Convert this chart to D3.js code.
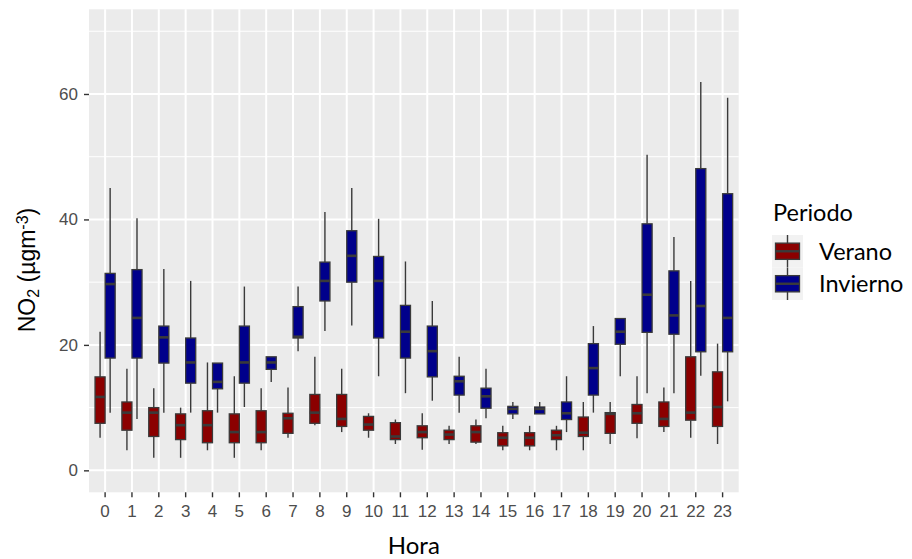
<!DOCTYPE html>
<html>
<head>
<meta charset="utf-8">
<script src="https://cdn.jsdelivr.net/npm/d3@7"></script>
<style>
  html, body { margin: 0; padding: 0; background: #ffffff; }
  svg { display: block; }
</style>
</head>
<body>
<svg id="chart" width="912" height="559"></svg>
<script>
// Hourly NO2 distributions by season: whisker low, Q1, median, Q3, whisker high
const hours = ["0","1","2","3","4","5","6","7","8","9","10","11","12","13","14","15","16","17","18","19","20","21","22","23"];
const periods = ["Verano", "Invierno"];
const periodColors = ["#8B0000", "#00008B"];

const veranoLow    = [5.2, 3.2, 2.0, 2.0, 3.2, 2.0, 3.2, 5.2, 7.2, 6.1, 5.2, 4.2, 3.3, 4.2, 4.2, 3.2, 3.2, 3.2, 3.2, 4.2, 5.1, 6.1, 5.2, 4.2];
const veranoQ1     = [7.5, 6.4, 5.4, 4.9, 4.4, 4.4, 4.4, 5.9, 7.5, 7.0, 6.4, 4.9, 5.2, 4.9, 4.5, 3.9, 3.9, 4.9, 5.4, 5.9, 7.5, 7.0, 8.0, 7.0];
const veranoMedian = [11.7, 9.2, 9.2, 7.2, 7.2, 6.1, 6.1, 8.3, 9.2, 8.2, 7.3, 5.4, 6.1, 5.7, 6.1, 5.2, 5.2, 5.6, 6.0, 9.0, 9.1, 8.2, 9.2, 10.1];
const veranoQ3     = [14.9, 10.9, 10.0, 9.0, 9.5, 9.0, 9.5, 9.1, 12.1, 12.1, 8.6, 7.6, 7.1, 6.4, 7.1, 6.0, 6.0, 6.4, 8.5, 9.2, 10.5, 10.9, 18.1, 15.7];
const veranoHigh   = [22.1, 16.2, 13.1, 10.0, 17.2, 15.0, 13.1, 13.2, 18.1, 16.2, 9.1, 8.1, 9.1, 7.1, 8.1, 7.1, 7.1, 7.1, 10.9, 10.9, 15.0, 13.2, 30.2, 20.2];

const inviernoLow    = [9.2, 8.2, 9.2, 9.2, 9.2, 10.1, 14.1, 19.0, 22.2, 23.1, 15.0, 12.3, 11.1, 9.2, 8.3, 8.2, 9.0, 6.1, 9.2, 15.0, 12.3, 12.3, 15.1, 11.0];
const inviernoQ1     = [17.9, 17.9, 17.1, 13.9, 13.0, 13.9, 16.1, 21.1, 27.0, 30.0, 21.1, 17.9, 14.9, 12.0, 9.9, 9.0, 9.0, 8.1, 12.0, 20.1, 22.0, 21.7, 18.9, 18.9];
const inviernoMedian = [29.7, 24.3, 21.2, 17.2, 14.1, 17.2, 17.2, 21.3, 30.2, 34.2, 30.2, 22.1, 19.0, 14.2, 11.8, 9.8, 9.8, 9.1, 16.3, 22.1, 28.0, 24.7, 26.2, 24.3];
const inviernoQ3     = [31.4, 32.0, 23.0, 21.1, 17.1, 23.0, 18.1, 26.1, 33.2, 38.2, 34.1, 26.3, 23.0, 15.0, 13.1, 10.2, 10.1, 10.9, 20.2, 24.2, 39.3, 31.8, 48.1, 44.1];
const inviernoHigh   = [45.0, 40.2, 32.1, 30.2, 17.1, 29.3, 18.1, 29.3, 41.2, 45.0, 40.1, 33.3, 27.0, 18.1, 16.2, 10.9, 10.9, 15.0, 23.0, 24.2, 50.3, 37.2, 61.9, 59.4];

const yMajorTicks = [0, 20, 40, 60];
const yMinorTicks = [10, 30, 50, 70];

const xTitle = "Hora";
const legendTitle = "Periodo";

// Assemble one record per box
const seriesStats = {
  Verano:   { low: veranoLow,   q1: veranoQ1,   med: veranoMedian,   q3: veranoQ3,   high: veranoHigh },
  Invierno: { low: inviernoLow, q1: inviernoQ1, med: inviernoMedian, q3: inviernoQ3, high: inviernoHigh }
};
const boxes = [];
hours.forEach((h, i) => {
  periods.forEach(p => {
    const s = seriesStats[p];
    boxes.push({ hour: h, period: p, low: s.low[i], q1: s.q1[i], med: s.med[i], q3: s.q3[i], high: s.high[i] });
  });
});

const svg = d3.select("#chart");
const panel = { left: 89, right: 738.7, top: 9.3, bottom: 492.3 };

const x = d3.scaleBand().domain(hours).range([panel.left, panel.right])
  .paddingInner(0).paddingOuter(0.1);
const step = x.step();
const dodge = d3.scaleBand().domain(periods).range([-0.375 * step, 0.375 * step]).padding(0);
const y = d3.scaleLinear().domain([-3.5, 73.5]).range([panel.bottom, panel.top]);
const color = d3.scaleOrdinal().domain(periods).range(periodColors);

const cx = h => x(h) + x.bandwidth() / 2;

// Panel background and grid
svg.append("rect")
  .attr("x", panel.left).attr("y", panel.top)
  .attr("width", panel.right - panel.left).attr("height", panel.bottom - panel.top)
  .attr("fill", "#EBEBEB");

const grid = svg.append("g");
grid.selectAll("line.minor").data(yMinorTicks).join("line")
  .attr("x1", panel.left).attr("x2", panel.right)
  .attr("y1", d => y(d)).attr("y2", d => y(d))
  .attr("stroke", "#ffffff").attr("stroke-width", 1);
grid.selectAll("line.majory").data(yMajorTicks).join("line")
  .attr("x1", panel.left).attr("x2", panel.right)
  .attr("y1", d => y(d)).attr("y2", d => y(d))
  .attr("stroke", "#ffffff").attr("stroke-width", 2);
grid.selectAll("line.majorx").data(hours).join("line")
  .attr("x1", d => cx(d)).attr("x2", d => cx(d))
  .attr("y1", panel.top).attr("y2", panel.bottom)
  .attr("stroke", "#ffffff").attr("stroke-width", 2);

// Boxplots
const outline = "#3a3a3a";
const g = svg.append("g");
const bg = g.selectAll("g.box").data(boxes).join("g")
  .attr("transform", d => `translate(${cx(d.hour) + dodge(d.period)},0)`);
const bw = dodge.bandwidth();

bg.append("line")
  .attr("x1", bw / 2).attr("x2", bw / 2)
  .attr("y1", d => y(d.high)).attr("y2", d => y(d.q3))
  .attr("stroke", outline).attr("stroke-width", 1.4);
bg.append("line")
  .attr("x1", bw / 2).attr("x2", bw / 2)
  .attr("y1", d => y(d.q1)).attr("y2", d => y(d.low))
  .attr("stroke", outline).attr("stroke-width", 1.4);
bg.append("rect")
  .attr("x", 0).attr("width", bw)
  .attr("y", d => y(d.q3)).attr("height", d => y(d.q1) - y(d.q3))
  .attr("fill", d => color(d.period))
  .attr("stroke", outline).attr("stroke-width", 1.3);
bg.append("line")
  .attr("x1", 0).attr("x2", bw)
  .attr("y1", d => y(d.med)).attr("y2", d => y(d.med))
  .attr("stroke", outline).attr("stroke-width", 2.6);

// Axes
const tickFont = "'Liberation Sans', Arial, sans-serif";
const yAxis = svg.append("g")
  .attr("transform", `translate(${panel.left},0)`)
  .call(d3.axisLeft(y).tickValues(yMajorTicks).tickSize(5).tickPadding(6));
const xAxis = svg.append("g")
  .attr("transform", `translate(0,${panel.bottom})`)
  .call(d3.axisBottom(x).tickSize(5).tickPadding(8));
[yAxis, xAxis].forEach(a => {
  a.select(".domain").remove();
  a.selectAll(".tick line").attr("stroke", "#333333").attr("stroke-width", 1.4);
  a.selectAll(".tick text").attr("fill", "#4D4D4D")
    .style("font-family", tickFont).style("font-size", "17px");
});

// Axis titles
const titleFont = "Lato, 'Open Sans', sans-serif";
svg.append("text")
  .attr("x", (panel.left + panel.right) / 2).attr("y", 554)
  .attr("text-anchor", "middle")
  .style("font-family", titleFont).style("font-size", "24px").attr("fill", "#000")
  .text(xTitle);

// y title: chemical formula with subscript and unit with superscript
const yt = svg.append("text")
  .attr("transform", `translate(35,270) rotate(-90)`)
  .attr("text-anchor", "middle")
  .style("font-family", tickFont).style("font-size", "23px").attr("fill", "#000");
yt.append("tspan").text("NO");
yt.append("tspan").attr("baseline-shift", "-25%").style("font-size", "16px").text("2");
yt.append("tspan").text(" (µgm");
yt.append("tspan").attr("baseline-shift", "45%").style("font-size", "16px").text("-3");
yt.append("tspan").text(")");

// Legend
const legend = svg.append("g");
legend.append("text")
  .attr("x", 773).attr("y", 221)
  .style("font-family", titleFont).style("font-size", "23.5px").attr("fill", "#000")
  .text(legendTitle);
const keyH = 32.5, keyW = 31, keyX = 772, keyY = 235;
const keys = legend.selectAll("g.key").data(periods).join("g")
  .attr("transform", (d, i) => `translate(${keyX},${keyY + i * keyH})`);
keys.append("rect").attr("width", keyW).attr("height", keyH).attr("fill", "#F2F2F2");
keys.append("line")
  .attr("x1", keyW / 2).attr("x2", keyW / 2).attr("y1", 0).attr("y2", keyH)
  .attr("stroke", outline).attr("stroke-width", 1.4);
keys.append("rect")
  .attr("x", 3.5).attr("width", keyW - 7)
  .attr("y", keyH * 0.25).attr("height", keyH * 0.5)
  .attr("fill", d => color(d)).attr("stroke", outline).attr("stroke-width", 1.3);
keys.append("line")
  .attr("x1", 3.5).attr("x2", keyW - 3.5).attr("y1", keyH / 2).attr("y2", keyH / 2)
  .attr("stroke", outline).attr("stroke-width", 2.4);
keys.append("text")
  .attr("x", 47).attr("y", keyH / 2 + 8.5)
  .style("font-family", titleFont).style("font-size", "23.5px").attr("fill", "#000")
  .text(d => d);
</script>
</body>
</html>
